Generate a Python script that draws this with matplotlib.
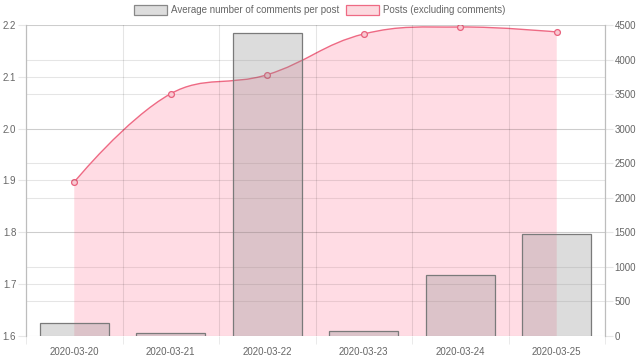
import numpy as np
import matplotlib.pyplot as plt
from matplotlib.path import Path
from matplotlib.patches import PathPatch, Patch

dates = ['2020-03-20', '2020-03-21', '2020-03-22', '2020-03-23', '2020-03-24', '2020-03-25']
avg_comments = [1.626, 1.606, 2.185, 1.610, 1.718, 1.796]
posts = [2228, 3506, 3781, 4370, 4471, 4399]

plt.rcParams['font.family'] = ['Liberation Sans Narrow', 'Liberation Sans', 'DejaVu Sans']
plt.rcParams['font.size'] = 7

TXT = '#666666'
TICK = '#e6e6e6'
PINK = (1.0, 99 / 255, 132 / 255)

fig = plt.figure(figsize=(6.4, 3.61), dpi=100)
ax1 = fig.add_axes([26 / 640, 25 / 361, 579 / 640, 311 / 361])
ax2 = ax1.twinx()
ax1.set_zorder(2)
ax1.patch.set_visible(False)

x = np.arange(len(dates))
ax1.set_xlim(-0.5, len(dates) - 0.5)
ax1.set_ylim(1.6, 2.2)
ax2.set_ylim(0, 4500)

# posts line, smoothed like chart.js (tension 0.4, in pixel space)
pts = ax2.transData.transform(np.column_stack([x, posts]))
t = 0.4
ctrl_prev = pts.copy()
ctrl_next = pts.copy()
for i in range(1, len(pts) - 1):
    d01 = np.hypot(*(pts[i] - pts[i - 1]))
    d12 = np.hypot(*(pts[i + 1] - pts[i]))
    fa = t * d01 / (d01 + d12)
    fb = t * d12 / (d01 + d12)
    ctrl_prev[i] = pts[i] - fa * (pts[i + 1] - pts[i - 1])
    ctrl_next[i] = pts[i] + fb * (pts[i + 1] - pts[i - 1])
verts = [pts[0]]
codes = [Path.MOVETO]
for i in range(len(pts) - 1):
    verts += [ctrl_next[i], ctrl_prev[i + 1], pts[i + 1]]
    codes += [Path.CURVE4] * 3
inv = ax2.transData.inverted()
curve = inv.transform(np.array(verts))
line_path = Path(curve, codes)
fill_verts = list(curve) + [(x[-1], 0), (x[0], 0), (x[0], posts[0])]
fill_codes = codes + [Path.LINETO, Path.LINETO, Path.CLOSEPOLY]
ax2.add_patch(PathPatch(Path(fill_verts, fill_codes), facecolor=PINK + (0.22,), edgecolor='none', zorder=1))
ax2.add_patch(PathPatch(line_path, facecolor='none', edgecolor='#ee6a84', lw=1, zorder=2))
ax2.plot(x, posts, 'o', ms=4.2, mfc='#f9c9d2', mec='#e8607c', mew=0.9, zorder=3)

# bars
ax1.bar(x, avg_comments, width=0.72, bottom=0, color=(0.55, 0.55, 0.55, 0.3),
        edgecolor='#7a7a7a', lw=0.9, zorder=3)

# axes styling
ax1.set_yticks(np.arange(1.6, 2.21, 0.1))
ax1.set_yticklabels([f'{v:.1f}' for v in np.arange(1.6, 2.21, 0.1)])
ax2.set_yticks(np.arange(0, 4501, 500))
ax1.set_xticks(x)
ax1.set_xticklabels(dates)
ax1.set_xticks(np.arange(-0.5, len(dates)), minor=True)
ax1.tick_params(axis='x', which='major', length=0, pad=8, colors=TXT)
ax1.tick_params(axis='x', which='minor', length=6, color=TICK)
ax1.tick_params(axis='y', length=6, width=0.8, color=TICK, labelcolor=TXT, pad=1)
ax2.tick_params(axis='y', length=6, width=0.8, color=TICK, labelcolor=TXT, pad=1)
ax1.grid(axis='y', color='black', alpha=0.1, lw=0.8)
ax2.grid(axis='y', color='black', alpha=0.1, lw=0.8)
ax1.grid(axis='x', which='minor', color='black', alpha=0.1, lw=0.8)
ax1.set_axisbelow(True)
ax2.set_axisbelow(True)
for a in (ax1, ax2):
    for s in ('top', 'bottom'):
        a.spines[s].set_visible(False)
    a.spines['left'].set_color('#bdbdbd')
    a.spines['right'].set_color('#bdbdbd')
    a.spines['left'].set_linewidth(0.8)
    a.spines['right'].set_linewidth(0.8)

handles = [Patch(facecolor='#dddddd', edgecolor='#888888', lw=0.9),
           Patch(facecolor='#fcd9df', edgecolor='#ee6a84', lw=0.9)]
fig.legend(handles, ['Average number of comments per post', 'Posts (excluding comments)'],
           loc='upper center', bbox_to_anchor=(0.5, 1.01), ncol=2, frameon=False,
           handlelength=3.4, handleheight=1.2, handletextpad=0.4, columnspacing=0.7,
           labelcolor=TXT, fontsize=7)

fig.savefig('out.png', dpi=100)
